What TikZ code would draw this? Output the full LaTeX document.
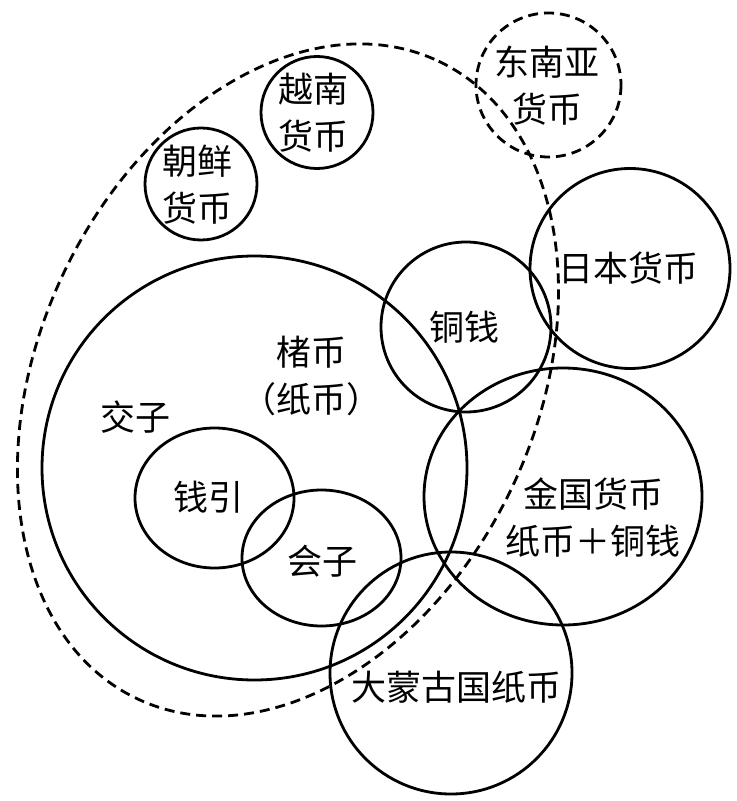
\documentclass[tikz,border=0pt]{standalone}
\usepackage{fontspec}
\newfontfamily\cjk{Noto Sans CJK SC}
\begin{document}
\begin{tikzpicture}[x=0.5pt,y=-0.5pt,
  ring/.style={line width=1.4pt},
  dashring/.style={line width=1.4pt, dash pattern=on 5pt off 3pt},
  lbl/.style={font=\cjk\fontsize{17.5}{23.5}\selectfont, align=center, inner sep=0pt}]
\fill[white] (0,0) rectangle (736,801);
\useasboundingbox (0,0) rectangle (736,801);
% centres
\coordinate (cChu) at (254.5,468);
\coordinate (cQian) at (214.5,498);
\coordinate (cHui) at (321.5,558);
\coordinate (cTong) at (466,327);
\coordinate (cRi) at (630,268.5);
\coordinate (cJin) at (563,496.5);
\coordinate (cMeng) at (451,673);
\coordinate (cYue) at (317,112.5);
\coordinate (cChao) at (201,184);
\coordinate (cDny) at (548.5,85);
\coordinate (cSea) at (288,380);
% circles
\draw[ring] (cChu) ellipse [x radius=212.5, y radius=212];
\draw[ring] (cQian) ellipse [x radius=79.5, y radius=70];
\draw[ring] (cHui) ellipse [x radius=79.5, y radius=68];
\draw[ring] (cTong) ellipse [x radius=85, y radius=85];
\draw[ring] (cRi) ellipse [x radius=100, y radius=100];
\draw[ring] (cJin) ellipse [x radius=139, y radius=128.5];
\draw[ring] (cMeng) ellipse [x radius=121, y radius=121];
\draw[ring] (cYue) ellipse [x radius=56, y radius=56];
\draw[ring] (cChao) ellipse [x radius=56, y radius=56];
\draw[dashring] (cDny) ellipse [x radius=72.5, y radius=72];
\draw[dashring, rotate around={64.7:(cSea)}] (cSea) ellipse [x radius=352.6, y radius=248.5];
% labels
\node[lbl] (tYue) at (313,112.5) {越南\\货币};
\node[lbl] (tChao) at (197.5,185) {朝鲜\\货币};
\node[lbl] (tDny) at (547,85.5) {东南亚\\货币};
\node[lbl] (tRi) at (628,268) {日本货币};
\node[lbl] (tTong) at (464,327) {铜钱};
\node[lbl] (tChu) at (311,376) {楮币\\（纸币）};
\node[lbl] (tJiao) at (135,417) {交子};
\node[lbl] (tQian) at (208,497) {钱引};
\node[lbl] (tHui) at (322,561) {会子};
\node[lbl] (tJin) at (593,518) {金国货币\\纸币＋铜钱};
\node[lbl] (tMeng) at (456,687) {大蒙古国纸币};
\end{tikzpicture}
\end{document}
